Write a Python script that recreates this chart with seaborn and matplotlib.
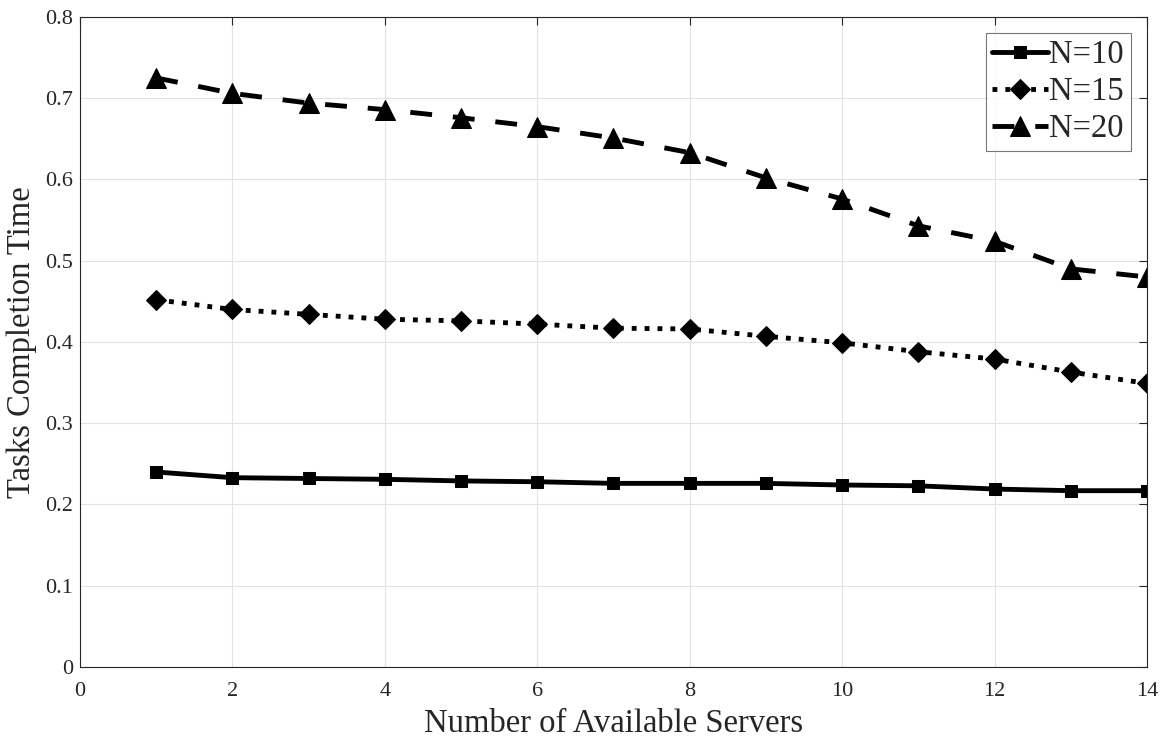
import numpy as np
import pandas as pd
import matplotlib
matplotlib.use("Agg")
import matplotlib.pyplot as plt
import seaborn as sns

# ==========================================================
# DATA
# ==========================================================

servers = [1, 2, 3, 4, 5, 6, 7, 8, 9, 10, 11, 12, 13, 14]
n10 = [0.240, 0.233, 0.232, 0.231, 0.229, 0.228, 0.226, 0.226, 0.226, 0.224, 0.223, 0.219, 0.217, 0.217]
n15 = [0.452, 0.440, 0.434, 0.428, 0.426, 0.422, 0.417, 0.416, 0.407, 0.399, 0.388, 0.379, 0.363, 0.349]
n20 = [0.725, 0.706, 0.694, 0.686, 0.676, 0.665, 0.651, 0.633, 0.602, 0.576, 0.543, 0.524, 0.490, 0.480]
labels = ["N=10", "N=15", "N=20"]

df = pd.DataFrame({
    "servers": servers * 3,
    "time": n10 + n15 + n20,
    "series": [labels[0]] * 14 + [labels[1]] * 14 + [labels[2]] * 14,
})

# ==========================================================
# PLOT
# ==========================================================

sns.set_style("white")
plt.rcParams["font.family"] = ["Liberation Serif", "DejaVu Serif"]

fig = plt.figure(figsize=(11.63, 7.38), dpi=100)
ax = fig.add_axes([0.0688, 0.0962, 0.9174, 0.8808])

styles = {
    "N=10": dict(marker="s", linestyle="-", markersize=8),
    "N=15": dict(marker="D", linestyle=":", markersize=10),
    "N=20": dict(marker="^", linestyle=(0, (4.5, 4.3)), markersize=15),
}

for lab in labels:
    sub = df[df["series"] == lab]
    sns.lineplot(data=sub, x="servers", y="time", ax=ax, color="black",
                 linewidth=3.5, markeredgecolor="black", markerfacecolor="black",
                 label=lab, **styles[lab])

ax.set_xlim(0, 14)
ax.set_ylim(0, 0.8)
ax.set_xticks(np.arange(0, 15, 2))
ax.set_yticks(np.arange(0, 0.81, 0.1))
ax.set_yticklabels(["0"] + [f"{v:.1f}" for v in np.arange(0.1, 0.81, 0.1)])

ax.grid(True, color="#e3e3e3", linewidth=0.8)
ax.set_axisbelow(True)
for sp in ax.spines.values():
    sp.set_color("#262626")
    sp.set_linewidth(0.8)
ax.tick_params(direction="in", length=6, width=0.8, colors="#262626",
               labelsize=16, top=True, right=True)
ax.tick_params(axis="x", pad=11)
ax.tick_params(axis="y", pad=5)

ax.set_xlabel("Number of Available Servers", fontsize=23.5, color="#262626", labelpad=5)
ax.set_ylabel("Tasks Completion Time", fontsize=23.5, color="#262626", labelpad=6)

leg = ax.legend(loc="upper right", fontsize=23.5, frameon=True, fancybox=False,
                edgecolor="#555555", handlelength=1.7, handletextpad=0.05,
                borderpad=0.2, labelspacing=0.2, borderaxespad=0.5)
leg.get_frame().set_linewidth(0.8)

fig.savefig("out.png", dpi=100)
